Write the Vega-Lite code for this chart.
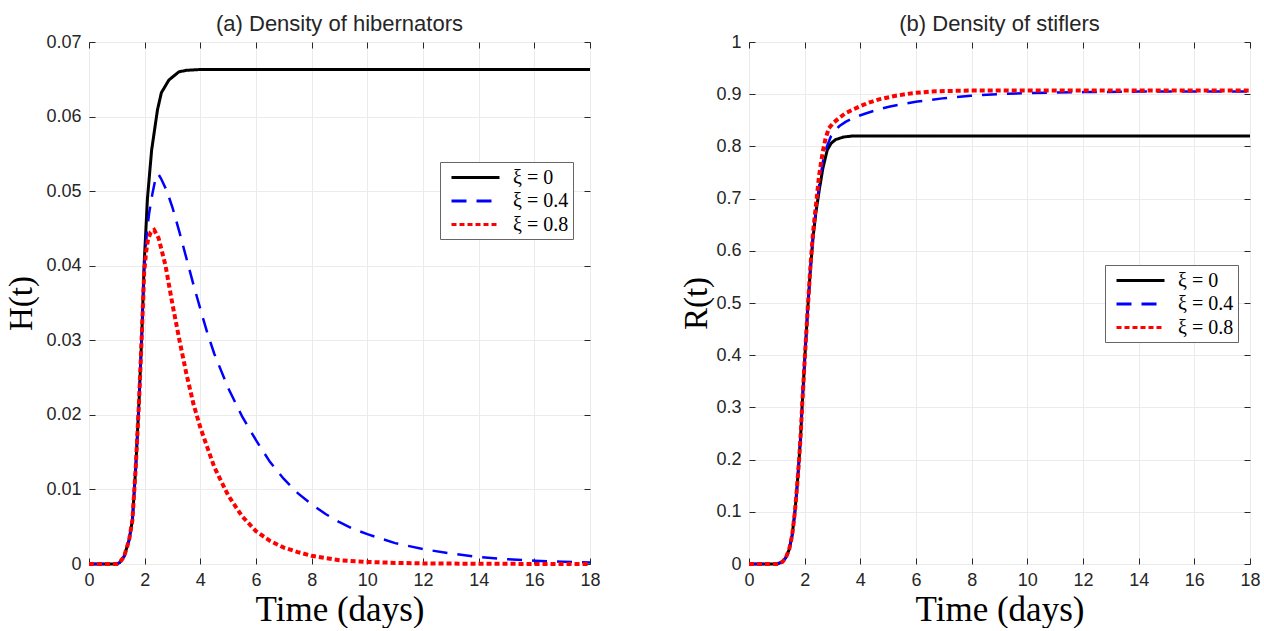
{
  "$schema": "https://vega.github.io/schema/vega-lite/v6.json",
  "background": "white",
  "padding": {"left": 5, "top": 12, "right": 0, "bottom": 0},
  "bounds": "flush",
  "spacing": 159,
  "config": {
    "view": {"stroke": "#262626", "strokeWidth": 1},
    "title": {"font": "Liberation Sans", "fontSize": 22, "fontWeight": "normal", "color": "#262626", "anchor": "middle", "offset": -3},
    "axis": {"labelFont": "Liberation Sans", "labelFontSize": 18, "labelColor": "#262626", "titleFont": "Liberation Serif", "titleFontSize": 33, "titleFontWeight": "normal", "titleColor": "#000000", "gridColor": "#ebebeb", "tickColor": "#262626"},
    "legend": {"orient": "none", "title": null, "symbolType": "M-0.4,0H4.4", "symbolSize": 400, "symbolStrokeWidth": 3, "labelFont": "Liberation Serif", "labelFontSize": 20, "labelColor": "#000000", "strokeColor": "#666666", "fillColor": "white", "padding": 4, "rowPadding": 1.5, "labelOffset": 46}
  },
  "datasets": {
    "H": [
      {"s": "ξ = 0", "t": 0, "v": 0}, {"s": "ξ = 0", "t": 1.0, "v": 0}, {"s": "ξ = 0", "t": 1.1, "v": 0.0002}, {"s": "ξ = 0", "t": 1.26, "v": 0.001}, {"s": "ξ = 0", "t": 1.44, "v": 0.0032}, {"s": "ξ = 0", "t": 1.56, "v": 0.0059}, {"s": "ξ = 0", "t": 1.68, "v": 0.013}, {"s": "ξ = 0", "t": 1.8, "v": 0.022}, {"s": "ξ = 0", "t": 1.9, "v": 0.031}, {"s": "ξ = 0", "t": 1.98, "v": 0.0401}, {"s": "ξ = 0", "t": 2.1, "v": 0.049}, {"s": "ξ = 0", "t": 2.25, "v": 0.0555}, {"s": "ξ = 0", "t": 2.46, "v": 0.0609}, {"s": "ξ = 0", "t": 2.6, "v": 0.0632}, {"s": "ξ = 0", "t": 2.87, "v": 0.0649}, {"s": "ξ = 0", "t": 3.23, "v": 0.066}, {"s": "ξ = 0", "t": 3.5, "v": 0.0662}, {"s": "ξ = 0", "t": 3.95, "v": 0.0663}, {"s": "ξ = 0", "t": 6, "v": 0.0663}, {"s": "ξ = 0", "t": 10, "v": 0.0663}, {"s": "ξ = 0", "t": 18, "v": 0.0663},
      {"s": "ξ = 0.4", "t": 0, "v": 0}, {"s": "ξ = 0.4", "t": 1.0, "v": 0}, {"s": "ξ = 0.4", "t": 1.1, "v": 0.0002}, {"s": "ξ = 0.4", "t": 1.26, "v": 0.001}, {"s": "ξ = 0.4", "t": 1.44, "v": 0.0032}, {"s": "ξ = 0.4", "t": 1.56, "v": 0.0059}, {"s": "ξ = 0.4", "t": 1.68, "v": 0.013}, {"s": "ξ = 0.4", "t": 1.8, "v": 0.022}, {"s": "ξ = 0.4", "t": 1.9, "v": 0.031}, {"s": "ξ = 0.4", "t": 1.98, "v": 0.0395}, {"s": "ξ = 0.4", "t": 2.08, "v": 0.0445}, {"s": "ξ = 0.4", "t": 2.16, "v": 0.047}, {"s": "ξ = 0.4", "t": 2.28, "v": 0.0497}, {"s": "ξ = 0.4", "t": 2.38, "v": 0.0515}, {"s": "ξ = 0.4", "t": 2.49, "v": 0.0523}, {"s": "ξ = 0.4", "t": 2.6, "v": 0.0516}, {"s": "ξ = 0.4", "t": 2.8, "v": 0.05}, {"s": "ξ = 0.4", "t": 3.0, "v": 0.0478}, {"s": "ξ = 0.4", "t": 3.25, "v": 0.0445}, {"s": "ξ = 0.4", "t": 3.5, "v": 0.041}, {"s": "ξ = 0.4", "t": 3.75, "v": 0.0375}, {"s": "ξ = 0.4", "t": 4.0, "v": 0.0342}, {"s": "ξ = 0.4", "t": 4.25, "v": 0.031}, {"s": "ξ = 0.4", "t": 4.5, "v": 0.0282}, {"s": "ξ = 0.4", "t": 5.0, "v": 0.0236}, {"s": "ξ = 0.4", "t": 5.5, "v": 0.0198}, {"s": "ξ = 0.4", "t": 6.0, "v": 0.0166}, {"s": "ξ = 0.4", "t": 6.5, "v": 0.0137}, {"s": "ξ = 0.4", "t": 7.0, "v": 0.0114}, {"s": "ξ = 0.4", "t": 7.5, "v": 0.0095}, {"s": "ξ = 0.4", "t": 8.0, "v": 0.008}, {"s": "ξ = 0.4", "t": 8.5, "v": 0.0067}, {"s": "ξ = 0.4", "t": 9.0, "v": 0.0056}, {"s": "ξ = 0.4", "t": 9.5, "v": 0.0047}, {"s": "ξ = 0.4", "t": 10, "v": 0.004}, {"s": "ξ = 0.4", "t": 11, "v": 0.0028}, {"s": "ξ = 0.4", "t": 12, "v": 0.002}, {"s": "ξ = 0.4", "t": 13, "v": 0.0014}, {"s": "ξ = 0.4", "t": 14, "v": 0.00095}, {"s": "ξ = 0.4", "t": 15, "v": 0.00065}, {"s": "ξ = 0.4", "t": 16, "v": 0.00045}, {"s": "ξ = 0.4", "t": 17, "v": 0.0003}, {"s": "ξ = 0.4", "t": 18, "v": 0.0002},
      {"s": "ξ = 0.8", "t": 0, "v": 0}, {"s": "ξ = 0.8", "t": 1.0, "v": 0}, {"s": "ξ = 0.8", "t": 1.1, "v": 0.0002}, {"s": "ξ = 0.8", "t": 1.26, "v": 0.001}, {"s": "ξ = 0.8", "t": 1.44, "v": 0.0032}, {"s": "ξ = 0.8", "t": 1.56, "v": 0.0059}, {"s": "ξ = 0.8", "t": 1.68, "v": 0.013}, {"s": "ξ = 0.8", "t": 1.8, "v": 0.022}, {"s": "ξ = 0.8", "t": 1.9, "v": 0.031}, {"s": "ξ = 0.8", "t": 1.98, "v": 0.039}, {"s": "ξ = 0.8", "t": 2.05, "v": 0.0418}, {"s": "ξ = 0.8", "t": 2.12, "v": 0.0435}, {"s": "ξ = 0.8", "t": 2.22, "v": 0.0445}, {"s": "ξ = 0.8", "t": 2.34, "v": 0.0448}, {"s": "ξ = 0.8", "t": 2.5, "v": 0.0437}, {"s": "ξ = 0.8", "t": 2.75, "v": 0.04}, {"s": "ξ = 0.8", "t": 3.0, "v": 0.0348}, {"s": "ξ = 0.8", "t": 3.25, "v": 0.03}, {"s": "ξ = 0.8", "t": 3.5, "v": 0.0255}, {"s": "ξ = 0.8", "t": 3.75, "v": 0.0215}, {"s": "ξ = 0.8", "t": 4.0, "v": 0.0183}, {"s": "ξ = 0.8", "t": 4.5, "v": 0.013}, {"s": "ξ = 0.8", "t": 5.0, "v": 0.0092}, {"s": "ξ = 0.8", "t": 5.5, "v": 0.0064}, {"s": "ξ = 0.8", "t": 6.0, "v": 0.0044}, {"s": "ξ = 0.8", "t": 6.5, "v": 0.0031}, {"s": "ξ = 0.8", "t": 7.0, "v": 0.0022}, {"s": "ξ = 0.8", "t": 7.5, "v": 0.0016}, {"s": "ξ = 0.8", "t": 8.0, "v": 0.0011}, {"s": "ξ = 0.8", "t": 9.0, "v": 0.0005}, {"s": "ξ = 0.8", "t": 10, "v": 0.00028}, {"s": "ξ = 0.8", "t": 11, "v": 0.00015}, {"s": "ξ = 0.8", "t": 12, "v": 0.00008}, {"s": "ξ = 0.8", "t": 14, "v": 0.00003}, {"s": "ξ = 0.8", "t": 16, "v": 0.00001}, {"s": "ξ = 0.8", "t": 18, "v": 0}
    ],
    "R": [
      {"s": "ξ = 0", "t": 0, "v": 0}, {"s": "ξ = 0", "t": 1.0, "v": 0}, {"s": "ξ = 0", "t": 1.2, "v": 0.004}, {"s": "ξ = 0", "t": 1.32, "v": 0.012}, {"s": "ξ = 0", "t": 1.44, "v": 0.027}, {"s": "ξ = 0", "t": 1.55, "v": 0.055}, {"s": "ξ = 0", "t": 1.65, "v": 0.1}, {"s": "ξ = 0", "t": 1.73, "v": 0.15}, {"s": "ξ = 0", "t": 1.8, "v": 0.2}, {"s": "ξ = 0", "t": 1.86, "v": 0.25}, {"s": "ξ = 0", "t": 1.92, "v": 0.314}, {"s": "ξ = 0", "t": 2.0, "v": 0.39}, {"s": "ξ = 0", "t": 2.1, "v": 0.48}, {"s": "ξ = 0", "t": 2.2, "v": 0.56}, {"s": "ξ = 0", "t": 2.3, "v": 0.625}, {"s": "ξ = 0", "t": 2.4, "v": 0.672}, {"s": "ξ = 0", "t": 2.52, "v": 0.715}, {"s": "ξ = 0", "t": 2.65, "v": 0.757}, {"s": "ξ = 0", "t": 2.81, "v": 0.793}, {"s": "ξ = 0", "t": 2.95, "v": 0.806}, {"s": "ξ = 0", "t": 3.11, "v": 0.813}, {"s": "ξ = 0", "t": 3.4, "v": 0.818}, {"s": "ξ = 0", "t": 3.71, "v": 0.82}, {"s": "ξ = 0", "t": 18, "v": 0.82},
      {"s": "ξ = 0.4", "t": 0, "v": 0}, {"s": "ξ = 0.4", "t": 1.0, "v": 0}, {"s": "ξ = 0.4", "t": 1.2, "v": 0.004}, {"s": "ξ = 0.4", "t": 1.32, "v": 0.012}, {"s": "ξ = 0.4", "t": 1.44, "v": 0.027}, {"s": "ξ = 0.4", "t": 1.55, "v": 0.055}, {"s": "ξ = 0.4", "t": 1.65, "v": 0.1}, {"s": "ξ = 0.4", "t": 1.73, "v": 0.15}, {"s": "ξ = 0.4", "t": 1.8, "v": 0.2}, {"s": "ξ = 0.4", "t": 1.86, "v": 0.25}, {"s": "ξ = 0.4", "t": 1.92, "v": 0.314}, {"s": "ξ = 0.4", "t": 2.0, "v": 0.39}, {"s": "ξ = 0.4", "t": 2.1, "v": 0.48}, {"s": "ξ = 0.4", "t": 2.2, "v": 0.56}, {"s": "ξ = 0.4", "t": 2.3, "v": 0.627}, {"s": "ξ = 0.4", "t": 2.4, "v": 0.676}, {"s": "ξ = 0.4", "t": 2.52, "v": 0.725}, {"s": "ξ = 0.4", "t": 2.65, "v": 0.77}, {"s": "ξ = 0.4", "t": 2.8, "v": 0.8}, {"s": "ξ = 0.4", "t": 2.95, "v": 0.82}, {"s": "ξ = 0.4", "t": 3.05, "v": 0.828}, {"s": "ξ = 0.4", "t": 3.25, "v": 0.839}, {"s": "ξ = 0.4", "t": 3.47, "v": 0.847}, {"s": "ξ = 0.4", "t": 3.8, "v": 0.856}, {"s": "ξ = 0.4", "t": 4.19, "v": 0.863}, {"s": "ξ = 0.4", "t": 4.6, "v": 0.87}, {"s": "ξ = 0.4", "t": 5.03, "v": 0.876}, {"s": "ξ = 0.4", "t": 5.5, "v": 0.881}, {"s": "ξ = 0.4", "t": 6.05, "v": 0.886}, {"s": "ξ = 0.4", "t": 6.5, "v": 0.889}, {"s": "ξ = 0.4", "t": 6.95, "v": 0.892}, {"s": "ξ = 0.4", "t": 7.97, "v": 0.897}, {"s": "ξ = 0.4", "t": 8.92, "v": 0.9}, {"s": "ξ = 0.4", "t": 9.88, "v": 0.902}, {"s": "ξ = 0.4", "t": 10.84, "v": 0.903}, {"s": "ξ = 0.4", "t": 12, "v": 0.904}, {"s": "ξ = 0.4", "t": 14, "v": 0.905}, {"s": "ξ = 0.4", "t": 18, "v": 0.905},
      {"s": "ξ = 0.8", "t": 0, "v": 0}, {"s": "ξ = 0.8", "t": 1.0, "v": 0}, {"s": "ξ = 0.8", "t": 1.2, "v": 0.004}, {"s": "ξ = 0.8", "t": 1.32, "v": 0.012}, {"s": "ξ = 0.8", "t": 1.44, "v": 0.027}, {"s": "ξ = 0.8", "t": 1.55, "v": 0.055}, {"s": "ξ = 0.8", "t": 1.65, "v": 0.1}, {"s": "ξ = 0.8", "t": 1.73, "v": 0.15}, {"s": "ξ = 0.8", "t": 1.8, "v": 0.2}, {"s": "ξ = 0.8", "t": 1.86, "v": 0.25}, {"s": "ξ = 0.8", "t": 1.92, "v": 0.314}, {"s": "ξ = 0.8", "t": 2.0, "v": 0.39}, {"s": "ξ = 0.8", "t": 2.1, "v": 0.48}, {"s": "ξ = 0.8", "t": 2.2, "v": 0.565}, {"s": "ξ = 0.8", "t": 2.3, "v": 0.635}, {"s": "ξ = 0.8", "t": 2.4, "v": 0.685}, {"s": "ξ = 0.8", "t": 2.52, "v": 0.745}, {"s": "ξ = 0.8", "t": 2.65, "v": 0.79}, {"s": "ξ = 0.8", "t": 2.75, "v": 0.815}, {"s": "ξ = 0.8", "t": 2.87, "v": 0.835}, {"s": "ξ = 0.8", "t": 3.05, "v": 0.846}, {"s": "ξ = 0.8", "t": 3.23, "v": 0.854}, {"s": "ξ = 0.8", "t": 3.45, "v": 0.863}, {"s": "ξ = 0.8", "t": 3.71, "v": 0.87}, {"s": "ξ = 0.8", "t": 4.0, "v": 0.877}, {"s": "ξ = 0.8", "t": 4.31, "v": 0.884}, {"s": "ξ = 0.8", "t": 4.67, "v": 0.89}, {"s": "ξ = 0.8", "t": 5.27, "v": 0.897}, {"s": "ξ = 0.8", "t": 5.87, "v": 0.902}, {"s": "ξ = 0.8", "t": 6.5, "v": 0.905}, {"s": "ξ = 0.8", "t": 7.07, "v": 0.906}, {"s": "ξ = 0.8", "t": 8, "v": 0.907}, {"s": "ξ = 0.8", "t": 18, "v": 0.907}
    ]
  },
  "resolve": {"scale": {"color": "independent", "strokeDash": "independent"}},
  "hconcat": [
    {
      "width": 501, "height": 522,
      "title": "(a) Density of hibernators",
      "data": {"name": "H"},
      "resolve": {"axis": {"x": "independent", "y": "independent"}},
      "layer": [
        {
          "mark": {"type": "line"},
          "encoding": {
            "x": {"field": "t", "type": "quantitative", "scale": {"domain": [0, 18], "nice": false}, "axis": {"title": "Time (days)", "titleFontSize": 35, "values": [0, 2, 4, 6, 8, 10, 12, 14, 16, 18], "ticks": false, "domain": false, "grid": true, "labelPadding": 7, "titlePadding": 3, "labelFlush": false}},
            "y": {"field": "v", "type": "quantitative", "scale": {"domain": [0, 0.07], "nice": false}, "axis": {"title": "H(t)", "values": [0, 0.01, 0.02, 0.03, 0.04, 0.05, 0.06, 0.07], "format": ".2~f", "ticks": false, "domain": false, "grid": true, "labelPadding": 8, "titlePadding": 7, "labelFlush": false}},
            "color": {"field": "s", "type": "nominal", "scale": {"domain": ["ξ = 0", "ξ = 0.4", "ξ = 0.8"], "range": ["#000000", "#0000ff", "#ff0000"]}, "legend": {"legendX": 351, "legendY": 120}},
            "strokeDash": {"field": "s", "type": "nominal", "scale": {"domain": ["ξ = 0", "ξ = 0.4", "ξ = 0.8"], "range": [[1, 0], [15, 10], [5, 3]]}, "legend": {"legendX": 351, "legendY": 120}},
            "strokeWidth": {"condition": [{"test": "datum.s === 'ξ = 0.8'", "value": 4}, {"test": "datum.s === 'ξ = 0.4'", "value": 2.5}], "value": 3}
          }
        },
        {
          "mark": {"type": "point", "opacity": 0},
          "encoding": {
            "x": {"field": "t", "type": "quantitative", "axis": {"orient": "bottom", "offset": -6, "tickSize": 6, "labels": false, "domain": false, "grid": false, "title": null, "values": [0, 2, 4, 6, 8, 10, 12, 14, 16, 18]}},
            "y": {"field": "v", "type": "quantitative", "axis": {"orient": "left", "offset": -6, "tickSize": 6, "labels": false, "domain": false, "grid": false, "title": null, "values": [0, 0.01, 0.02, 0.03, 0.04, 0.05, 0.06, 0.07]}}
          }
        },
        {
          "mark": {"type": "point", "opacity": 0},
          "encoding": {
            "x": {"field": "t", "type": "quantitative", "axis": {"orient": "top", "offset": -6, "tickSize": 6, "labels": false, "domain": false, "grid": false, "title": null, "values": [0, 2, 4, 6, 8, 10, 12, 14, 16, 18]}},
            "y": {"field": "v", "type": "quantitative", "axis": {"orient": "right", "offset": -6, "tickSize": 6, "labels": false, "domain": false, "grid": false, "title": null, "values": [0, 0.01, 0.02, 0.03, 0.04, 0.05, 0.06, 0.07]}}
          }
        }
      ]
    },
    {
      "width": 501, "height": 522,
      "title": "(b) Density of stiflers",
      "data": {"name": "R"},
      "resolve": {"axis": {"x": "independent", "y": "independent"}},
      "layer": [
        {
          "mark": {"type": "line"},
          "encoding": {
            "x": {"field": "t", "type": "quantitative", "scale": {"domain": [0, 18], "nice": false}, "axis": {"title": "Time (days)", "titleFontSize": 35, "values": [0, 2, 4, 6, 8, 10, 12, 14, 16, 18], "ticks": false, "domain": false, "grid": true, "labelPadding": 7, "titlePadding": 3, "labelFlush": false}},
            "y": {"field": "v", "type": "quantitative", "scale": {"domain": [0, 1], "nice": false}, "axis": {"title": "R(t)", "values": [0, 0.1, 0.2, 0.3, 0.4, 0.5, 0.6, 0.7, 0.8, 0.9, 1], "format": ".1~f", "ticks": false, "domain": false, "grid": true, "labelPadding": 8, "titlePadding": 2, "labelFlush": false}},
            "color": {"field": "s", "type": "nominal", "scale": {"domain": ["ξ = 0", "ξ = 0.4", "ξ = 0.8"], "range": ["#000000", "#0000ff", "#ff0000"]}, "legend": {"legendX": 356, "legendY": 223}},
            "strokeDash": {"field": "s", "type": "nominal", "scale": {"domain": ["ξ = 0", "ξ = 0.4", "ξ = 0.8"], "range": [[1, 0], [15, 10], [5, 3]]}, "legend": {"legendX": 356, "legendY": 223}},
            "strokeWidth": {"condition": [{"test": "datum.s === 'ξ = 0.8'", "value": 4}, {"test": "datum.s === 'ξ = 0.4'", "value": 2.5}], "value": 3}
          }
        },
        {
          "mark": {"type": "point", "opacity": 0},
          "encoding": {
            "x": {"field": "t", "type": "quantitative", "axis": {"orient": "bottom", "offset": -6, "tickSize": 6, "labels": false, "domain": false, "grid": false, "title": null, "values": [0, 2, 4, 6, 8, 10, 12, 14, 16, 18]}},
            "y": {"field": "v", "type": "quantitative", "axis": {"orient": "left", "offset": -6, "tickSize": 6, "labels": false, "domain": false, "grid": false, "title": null, "values": [0, 0.1, 0.2, 0.3, 0.4, 0.5, 0.6, 0.7, 0.8, 0.9, 1]}}
          }
        },
        {
          "mark": {"type": "point", "opacity": 0},
          "encoding": {
            "x": {"field": "t", "type": "quantitative", "axis": {"orient": "top", "offset": -6, "tickSize": 6, "labels": false, "domain": false, "grid": false, "title": null, "values": [0, 2, 4, 6, 8, 10, 12, 14, 16, 18]}},
            "y": {"field": "v", "type": "quantitative", "axis": {"orient": "right", "offset": -6, "tickSize": 6, "labels": false, "domain": false, "grid": false, "title": null, "values": [0, 0.1, 0.2, 0.3, 0.4, 0.5, 0.6, 0.7, 0.8, 0.9, 1]}}
          }
        }
      ]
    }
  ]
}
